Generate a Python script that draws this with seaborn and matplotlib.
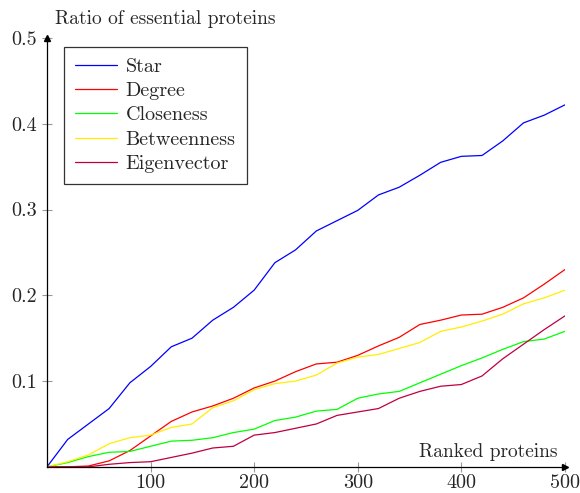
import pandas as pd
import matplotlib.pyplot as plt
import seaborn as sns

# ranked proteins (top-k) and ratio of essential proteins
proteins = list(range(0, 501, 20))

star = [0.000, 0.032, 0.050, 0.068, 0.098, 0.117, 0.140, 0.150, 0.171, 0.186,
        0.206, 0.238, 0.253, 0.275, 0.287, 0.299, 0.317, 0.326, 0.340, 0.355,
        0.362, 0.363, 0.380, 0.401, 0.410, 0.422]
degree = [0.000, 0.000, 0.001, 0.007, 0.019, 0.036, 0.053, 0.064, 0.071, 0.080,
          0.092, 0.100, 0.111, 0.120, 0.122, 0.130, 0.141, 0.151, 0.166, 0.171,
          0.177, 0.178, 0.186, 0.197, 0.213, 0.230]
closeness = [0.000, 0.005, 0.012, 0.017, 0.018, 0.024, 0.030, 0.031, 0.034, 0.040,
             0.044, 0.054, 0.058, 0.065, 0.067, 0.080, 0.085, 0.088, 0.098, 0.108,
             0.118, 0.127, 0.137, 0.146, 0.149, 0.158]
betweenness = [0.000, 0.006, 0.014, 0.027, 0.034, 0.037, 0.046, 0.050, 0.069, 0.077,
               0.090, 0.097, 0.100, 0.107, 0.121, 0.128, 0.131, 0.138, 0.145, 0.158,
               0.163, 0.170, 0.178, 0.190, 0.197, 0.206]
eigenvector = [0.000, 0.000, 0.000, 0.003, 0.005, 0.006, 0.011, 0.016, 0.022, 0.024,
               0.037, 0.040, 0.045, 0.050, 0.060, 0.064, 0.068, 0.080, 0.088, 0.094,
               0.096, 0.106, 0.126, 0.143, 0.160, 0.176]

methods = ["Star", "Degree", "Closeness", "Betweenness", "Eigenvector"]
colors = ["#0000FF", "#FF0000", "#00FF00", "#FFEE00", "#BF0040"]

df = pd.concat([
    pd.DataFrame({"k": proteins, "ratio": vals, "method": name})
    for name, vals in zip(methods, [star, degree, closeness, betweenness, eigenvector])
], ignore_index=True)

sns.set_theme(style="ticks")
plt.rcParams["font.family"] = ["cmr10", "DejaVu Serif"]
plt.rcParams["mathtext.fontset"] = "cm"
plt.rcParams["axes.formatter.use_mathtext"] = True

fig = plt.figure(figsize=(5.8, 4.93), dpi=100)
ax = fig.add_axes([0.081, 0.053, 0.893, 0.870])

sns.lineplot(data=df, x="k", y="ratio", hue="method", hue_order=methods,
             palette=colors, linewidth=0.9, ax=ax, legend=False)

ax.set_xlim(0, 500)
ax.set_ylim(0, 0.5)
ax.set_xticks([100, 200, 300, 400, 500])
ax.set_yticks([0.1, 0.2, 0.3, 0.4, 0.5])
ax.set_xticklabels(["100", "200", "300", "400", "500"])
ax.set_yticklabels(["0.1", "0.2", "0.3", "0.4", "0.5"])
ax.tick_params(direction="inout", length=7, width=0.8, color="#999999",
               labelsize=14.5)
ax.tick_params(axis="x", pad=1.5)
ax.tick_params(axis="y", pad=4)
ax.set_xlabel("")
ax.set_ylabel("")

for side in ["top", "right"]:
    ax.spines[side].set_visible(False)
for side in ["left", "bottom"]:
    ax.spines[side].set_linewidth(0.9)
    ax.spines[side].set_color("black")

# axis arrows, pgfplots style
ax.plot(1, 0, marker=">", color="black", markersize=5,
        transform=ax.get_yaxis_transform(), clip_on=False)
ax.plot(0, 1, marker="^", color="black", markersize=5,
        transform=ax.get_xaxis_transform(), clip_on=False)

ax.text(0.015, 1.044, "Ratio of essential proteins", transform=ax.transAxes,
        fontsize=14, ha="left", va="center")
ax.text(0.986, 0.035, "Ranked proteins", transform=ax.transAxes,
        fontsize=14, ha="right", va="center")

handles = [plt.Line2D([], [], color=c, linewidth=0.9) for c in colors]
leg = ax.legend(handles, methods, loc="upper left", bbox_to_anchor=(0.033, 0.979),
                fontsize=14.5, frameon=True, fancybox=False, handlelength=2.1,
                borderpad=0.55, labelspacing=0.3, handletextpad=0.4,
                borderaxespad=0)
leg.get_frame().set_edgecolor("black")
leg.get_frame().set_linewidth(0.9)

fig.savefig("out.png", dpi=100)
